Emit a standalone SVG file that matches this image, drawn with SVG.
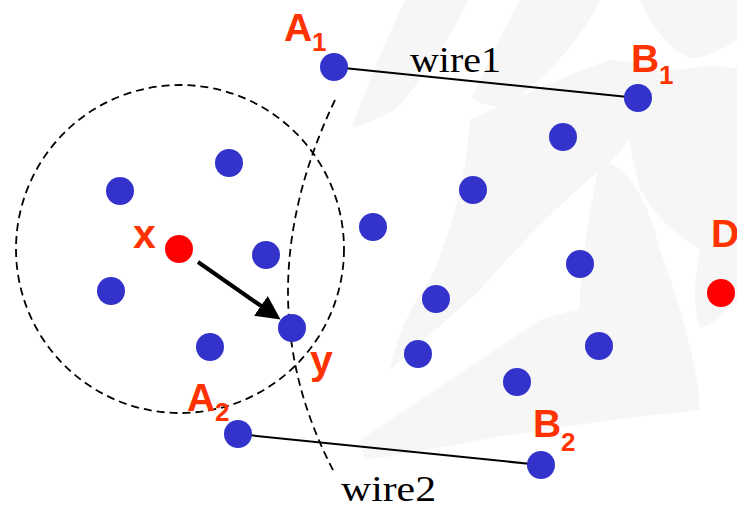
<svg xmlns="http://www.w3.org/2000/svg" width="737" height="507" viewBox="0 0 737 507">
<defs>
<style>
.n{fill:#3333CC}
.r{fill:#FF0000}
.lbl{font-family:"Liberation Sans",Arial,sans-serif;font-weight:bold;fill:#FF3300;font-size:39px}
.sub{font-family:"Liberation Sans",Arial,sans-serif;font-weight:bold;fill:#FF3300;font-size:26px}
.w{font-family:"Liberation Serif","Times New Roman",serif;fill:#000;font-size:36px}
.wire{stroke:#000;stroke-width:2;fill:none}
.dash{stroke:#000;stroke-width:1.8;fill:none;stroke-dasharray:8 5}
.wm{fill:#F6F6F6}
</style>
<marker id="ah" markerWidth="6" markerHeight="6" refX="4" refY="3" orient="auto" markerUnits="strokeWidth">
<path d="M0,0 L6,3 L0,6 z" fill="#000"/>
</marker>
</defs>
<rect width="737" height="507" fill="#fff"/>
<g id="watermark">
<path class="wm" d="M405,0 Q450,0 468,0 Q440,60 395,110 Q365,125 352,128 Q372,70 405,0 Z"/>
<path class="wm" d="M520,0 L600,0 Q575,55 505,108 Q480,105 472,98 Q495,45 520,0 Z"/>
<path class="wm" d="M640,0 L737,0 L737,40 Q705,60 690,58 Q660,45 640,0 Z"/>
<path class="wm" d="M470,120 Q540,85 610,60 Q655,62 660,75 Q640,140 600,170 Q540,220 480,290 Q430,335 390,370 Q400,320 430,280 Q465,200 470,120 Z"/>
<path class="wm" d="M620,90 Q680,60 737,68 L737,300 Q715,325 700,328 Q690,300 700,250 Q660,225 640,190 Q630,150 620,90 Z"/>
<path class="wm" d="M600,160 Q640,168 660,250 Q690,330 700,400 Q690,420 640,410 Q600,385 580,340 Q575,280 600,160 Z"/>
<path class="wm" d="M360,440 Q450,380 540,320 Q600,298 650,320 Q690,360 700,410 Q600,420 480,440 Q420,452 365,460 Z"/>
</g>
<g id="connectors">
<line id="wire1" class="wire" x1="334" y1="67" x2="638" y2="98"/>
<line id="wire2line" class="wire" x1="238" y1="434" x2="541" y2="465"/>
<circle id="range" class="dash" cx="180" cy="249" r="164"/>
<path id="wire2curve" class="dash" d="M335,100 Q242,295 333,470"/>
<line id="arrow" x1="198" y1="262" x2="274" y2="315" stroke="#000" stroke-width="4" marker-end="url(#ah)"/>
</g>
<g id="nodes">
<g id="A1"><circle class="n" cx="334" cy="67" r="14"/><text class="lbl" x="284" y="41">A</text><text class="sub" x="312" y="51">1</text></g>
<g id="B1"><circle class="n" cx="638" cy="98" r="14"/><text class="lbl" x="631" y="72">B</text><text class="sub" x="659" y="84">1</text></g>
<g id="A2"><circle class="n" cx="238" cy="434" r="14"/><text class="lbl" x="187" y="411">A</text><text class="sub" x="215" y="421">2</text></g>
<g id="B2"><circle class="n" cx="541" cy="465" r="14"/><text class="lbl" x="533" y="437">B</text><text class="sub" x="561" y="451">2</text></g>
<g id="X"><circle class="r" cx="179" cy="249" r="14"/><text class="lbl" x="133" y="248" style="font-size:41px">x</text></g>
<g id="Y"><circle class="n" cx="292" cy="328" r="14"/><text class="lbl" x="310" y="374" style="font-size:41px">y</text></g>
<g id="D"><circle class="r" cx="721" cy="293" r="14"/><text class="lbl" x="711" y="247">D</text></g>
<g id="n1"><circle class="n" cx="229" cy="163" r="14"/></g>
<g id="n2"><circle class="n" cx="120" cy="191" r="14"/></g>
<g id="n3"><circle class="n" cx="266" cy="255" r="14"/></g>
<g id="n4"><circle class="n" cx="111" cy="291" r="14"/></g>
<g id="n5"><circle class="n" cx="210" cy="347" r="14"/></g>
<g id="n6"><circle class="n" cx="473" cy="190" r="14"/></g>
<g id="n7"><circle class="n" cx="563" cy="137" r="14"/></g>
<g id="n8"><circle class="n" cx="373" cy="227" r="14"/></g>
<g id="n9"><circle class="n" cx="580" cy="264" r="14"/></g>
<g id="n10"><circle class="n" cx="436" cy="299" r="14"/></g>
<g id="n11"><circle class="n" cx="418" cy="354" r="14"/></g>
<g id="n12"><circle class="n" cx="599" cy="346" r="14"/></g>
<g id="n13"><circle class="n" cx="517" cy="382" r="14"/></g>
</g>
<g id="labels">
<text class="w" x="410" y="72" textLength="91" lengthAdjust="spacingAndGlyphs">wire1</text>
<text class="w" x="341" y="501" textLength="95" lengthAdjust="spacingAndGlyphs">wire2</text>
</g>
</svg>
